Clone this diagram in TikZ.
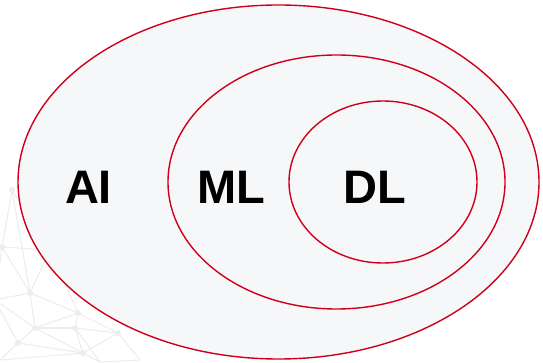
\documentclass[tikz,border=0pt]{standalone}
\usepackage{fontspec}
\setmainfont{Liberation Sans}
\usetikzlibrary{shapes.geometric}
\definecolor{ringred}{HTML}{D0001C}
\definecolor{ringfill}{HTML}{F6F7F9}
\definecolor{netgray}{HTML}{EDEDED}
\begin{document}
\begin{tikzpicture}[x=1pt,y=-1pt,
  ring/.style={ellipse, draw=ringred, fill=ringfill, line width=1.4pt, inner sep=0pt},
  lbl/.style={font=\fontsize{47}{50}\selectfont\bfseries, text=black, inner sep=0pt, anchor=base},
  net/.style={draw=netgray, line width=1.1pt},
  dot/.style={circle, fill=netgray, inner sep=0pt, minimum size=6pt}]
\useasboundingbox (0,0) rectangle (543,363);
% faint network in the background
\foreach \n/\px/\py in {a/12/190,b/2/247,c/30/293,d/78/313,e/35/328,f/75/328,g/118/333,h/18/343,i/83/353,j/100/362,k/-5/300,l/50/250,m/0/360,o/140/360}
  {\coordinate (net\n) at (\px,\py);}
\foreach \u/\v in {a/b,a/l,a/c,b/l,b/c,b/k,l/c,l/d,c/d,c/e,c/k,k/e,k/h,e/f,e/h,e/d,d/f,f/g,f/i,d/g,g/i,g/o,h/i,h/m,i/j,f/j,e/i,m/i,j/o}
  {\path[net] (net\u) -- (net\v);}
\foreach \n in {a,b,c,d,e,f,g,h,i,l}
  {\node[dot] at (net\n) {};}
% rings
\node[ring, minimum width=521pt, minimum height=354pt] (ai) at (278.5,182) {};
\node[ring, minimum width=337pt, minimum height=254pt] (ml) at (336.5,182) {};
\node[ring, minimum width=188pt, minimum height=162pt] (dl) at (383,182) {};
% labels
\node[lbl] (tai) at (88.5,204) {AI};
\node[lbl] (tml) at (231,204) {ML};
\node[lbl] (tdl) at (374.5,204) {DL};
\end{tikzpicture}
\end{document}
